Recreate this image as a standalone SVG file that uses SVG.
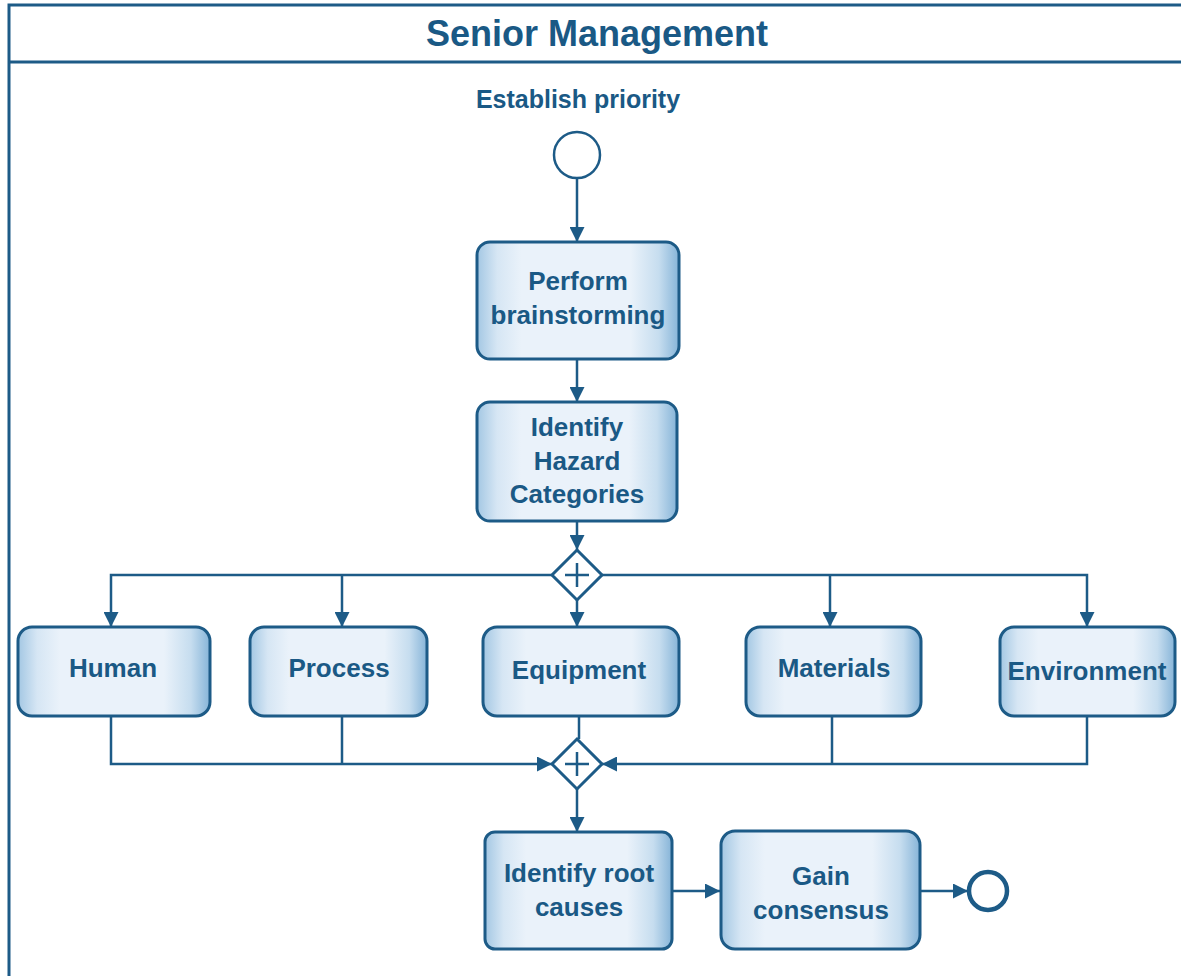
<svg xmlns="http://www.w3.org/2000/svg" width="1181" height="976" viewBox="0 0 1181 976">
<defs>
<linearGradient id="boxfill" x1="0" y1="0" x2="1" y2="0">
<stop offset="0" stop-color="#a3c7e3"/>
<stop offset="0.1" stop-color="#d6e6f4"/>
<stop offset="0.22" stop-color="#eaf2fa"/>
<stop offset="0.76" stop-color="#eaf2fa"/>
<stop offset="0.9" stop-color="#c6ddef"/>
<stop offset="1" stop-color="#86b4d8"/>
</linearGradient>
<marker id="arr" markerUnits="userSpaceOnUse" markerWidth="15" markerHeight="15" viewBox="0 0 15 15" refX="15" refY="7.5" orient="auto">
<path d="M0,0 L15,7.5 L0,15 Z" fill="#1d5b87"/>
</marker>
</defs>
<style>
.box{fill:url(#boxfill);stroke:#1d5b87;stroke-width:3}
.lbl{font-family:"Liberation Sans",Arial,sans-serif;font-weight:bold;font-size:26px;fill:#1a5985;text-anchor:middle}
.edge{fill:none;stroke:#1d5b87;stroke-width:2.5}
.gw{fill:#ffffff;stroke:#1d5b87;stroke-width:3}
</style>
<rect width="1181" height="976" fill="#ffffff"/>
<g id="pool">
<rect x="9" y="5" width="1190" height="1000" fill="none" stroke="#1d5b87" stroke-width="3"/>
<line x1="9" y1="62" x2="1181" y2="62" stroke="#1d5b87" stroke-width="3"/>
<text x="597" y="46" font-family="Liberation Sans, Arial, sans-serif" font-weight="bold" font-size="36" fill="#1a5985" text-anchor="middle">Senior Management</text>
</g>
<g id="connectors">
<path class="edge" d="M577 178 V242" marker-end="url(#arr)"/>
<path class="edge" d="M577 359 V402" marker-end="url(#arr)"/>
<path class="edge" d="M577 521 V550" marker-end="url(#arr)"/>
<path class="edge" d="M552 575 H111 V627" marker-end="url(#arr)"/>
<path class="edge" d="M342 575 V627" marker-end="url(#arr)"/>
<path class="edge" d="M577 600 V627" marker-end="url(#arr)"/>
<path class="edge" d="M602 575 H1087 V627" marker-end="url(#arr)"/>
<path class="edge" d="M830 575 V627" marker-end="url(#arr)"/>
<path class="edge" d="M111 716 V764 H552" marker-end="url(#arr)"/>
<path class="edge" d="M342 716 V764"/>
<path class="edge" d="M579 716 V739"/>
<path class="edge" d="M1087 716 V764 H602" marker-end="url(#arr)"/>
<path class="edge" d="M832 716 V764"/>
<path class="edge" d="M577 789 V832" marker-end="url(#arr)"/>
<path class="edge" d="M672 891 H720" marker-end="url(#arr)"/>
<path class="edge" d="M920 891 H968" marker-end="url(#arr)"/>
</g>
<g id="start">
<text x="578" y="108" font-family="Liberation Sans, Arial, sans-serif" font-weight="bold" font-size="25" fill="#1a5985" text-anchor="middle">Establish priority</text>
<circle cx="577" cy="155" r="23" fill="#ffffff" stroke="#1d5b87" stroke-width="2.5"/>
</g>
<g id="brainstorm">
<rect class="box" x="477" y="242" width="202" height="117" rx="13"/>
<text class="lbl" x="578" y="290">Perform</text>
<text class="lbl" x="578" y="324">brainstorming</text>
</g>
<g id="hazard">
<rect class="box" x="477" y="402" width="200" height="119" rx="13"/>
<text class="lbl" x="577" y="436">Identify</text>
<text class="lbl" x="577" y="470">Hazard</text>
<text class="lbl" x="577" y="503">Categories</text>
</g>
<g id="split">
<path class="gw" d="M577 550 L602 575 L577 600 L552 575 Z"/>
<path d="M577 563 V587 M565 575 H589" stroke="#1d5b87" stroke-width="2.5"/>
</g>
<g id="human">
<rect class="box" x="18" y="627" width="192" height="89" rx="14"/>
<text class="lbl" x="113" y="677">Human</text>
</g>
<g id="process">
<rect class="box" x="250" y="627" width="177" height="89" rx="14"/>
<text class="lbl" x="339" y="677">Process</text>
</g>
<g id="equipment">
<rect class="box" x="483" y="627" width="196" height="89" rx="14"/>
<text class="lbl" x="579" y="679">Equipment</text>
</g>
<g id="materials">
<rect class="box" x="746" y="627" width="175" height="89" rx="14"/>
<text class="lbl" x="834" y="677">Materials</text>
</g>
<g id="environment">
<rect class="box" x="1000" y="627" width="175" height="89" rx="14"/>
<text class="lbl" x="1087" y="680">Environment</text>
</g>
<g id="join">
<path class="gw" d="M577 739 L602 764 L577 789 L552 764 Z"/>
<path d="M577 752 V776 M565 764 H589" stroke="#1d5b87" stroke-width="2.5"/>
</g>
<g id="rootcauses">
<rect class="box" x="485" y="832" width="187" height="117" rx="10"/>
<text class="lbl" x="579" y="882">Identify root</text>
<text class="lbl" x="579" y="916">causes</text>
</g>
<g id="consensus">
<rect class="box" x="721" y="831" width="199" height="118" rx="14"/>
<text class="lbl" x="821" y="885">Gain</text>
<text class="lbl" x="821" y="919">consensus</text>
</g>
<g id="end">
<circle cx="988" cy="891" r="19" fill="#ffffff" stroke="#1d5b87" stroke-width="4.5"/>
</g>
</svg>
